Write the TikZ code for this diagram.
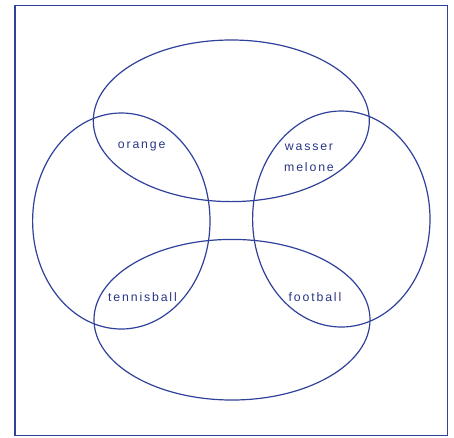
\documentclass[tikz,border=0pt]{standalone}
\usepackage{fontspec}
\setmainfont{Liberation Sans}[LetterSpace=15]
\usepackage{tikz}
\definecolor{ink}{HTML}{2F419B}

\begin{document}
\begin{tikzpicture}[x=1pt, y=-1pt, every node/.style={font=\fontsize{12.3}{20.3}\selectfont, text=ink!85!black, align=center}]
\useasboundingbox (0,0) rectangle (454,437);
\draw[ink, line width=1.1pt] (15,5.5) rectangle (447.5,435.5);
\foreach \cx/\cy/\rx/\ry in {231.3/120.8/138/80.8, 232/319.7/138/80.3, 121.3/221/88.7/108, 341.3/219/88.7/108}{
  \draw[ink, line width=1.2pt] (\cx,\cy) ellipse [x radius=\rx, y radius=\ry];}
\node[anchor=base] (orange) at (141.7,148.3) {orange};
\node (melone) at (309,157.7) {wasser\\melone};
\node[anchor=base] (tennis) at (142.5,301.7) {tennisball};
\node[anchor=base] (football) at (315,301.7) {football};
\end{tikzpicture}
\end{document}
